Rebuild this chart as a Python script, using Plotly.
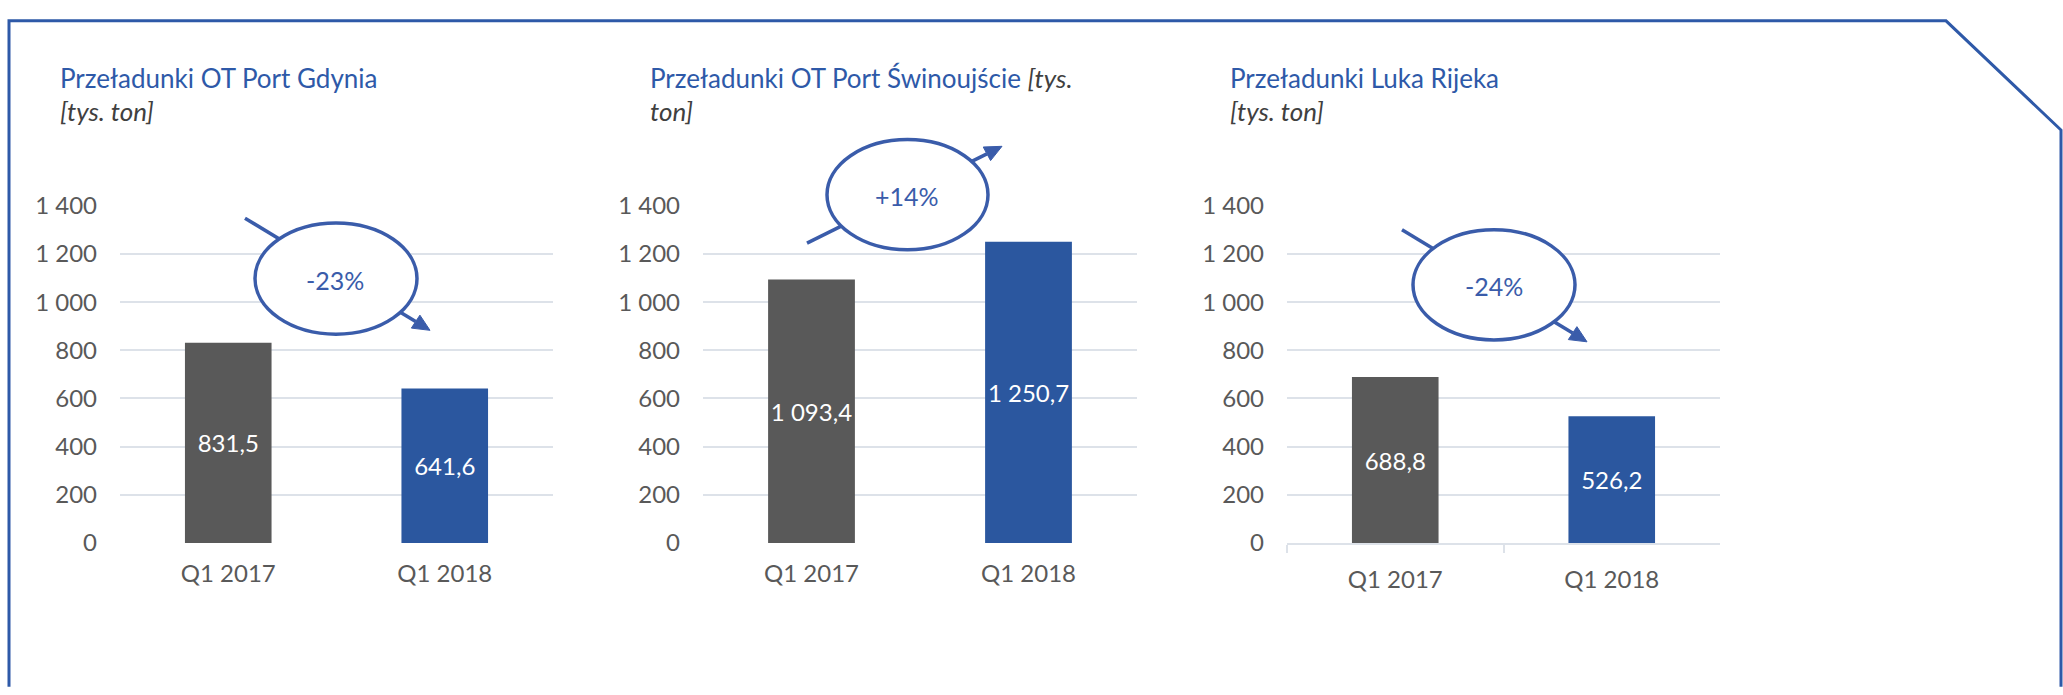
import math
import plotly.graph_objects as go

# ---------------- data ----------------
categories = ["Q1 2017", "Q1 2018"]
gdynia = [831.5, 641.6]
swinoujscie = [1093.4, 1250.7]
rijeka = [688.8, 526.2]
changes = ["-23%", "+14%", "-24%"]
title_line1 = [
    "Przeładunki OT Port Gdynia",
    "Przeładunki OT Port Świnoujście <i><span style='color:#404040'>[tys.</span></i>",
    "Przeładunki Luka Rijeka",
]
title_line2 = ["[tys. ton]", "ton]", "[tys. ton]"]
y_tick_values = [0, 200, 400, 600, 800, 1000, 1200, 1400]

# ---------------- style ----------------
W, H = 2063, 695
FONT = "Lato, 'Open Sans', sans-serif"
BLUE_T = "#2E59A8"
GRAY_BAR = "#595959"
BLUE_BAR = "#2B579F"
LINE_BLUE = "#3A5CAA"
GRID = "#DDE2E9"
TICK = "#595959"


def px(x):
    return x / W


def py(y):
    return 1 - y / H


fig = go.Figure()

series = [gdynia, swinoujscie, rijeka]
x_domains_px = [(120, 553), (703, 1137), (1287, 1720)]
y_dom = [py(550), py(198)]

for i, vals in enumerate(series):
    n = "" if i == 0 else str(i + 1)
    fig.add_trace(go.Bar(
        x=categories, y=vals,
        xaxis="x" + n, yaxis="y" + n,
        width=0.4,
        marker=dict(color=[GRAY_BAR, BLUE_BAR], line=dict(width=0)),
        texttemplate="%{y:,.1f}",
        textposition="inside", insidetextanchor="middle",
        textangle=0, constraintext="none",
        textfont=dict(family=FONT, size=24, color="white"),
        hoverinfo="skip", showlegend=False,
    ))
    d0, d1 = x_domains_px[i]
    xa = dict(
        domain=[px(d0), px(d1)], anchor="y" + n,
        showgrid=False, zeroline=False,
        tickfont=dict(family=FONT, size=24, color=TICK),
        ticklabelstandoff=14,
        fixedrange=True,
    )
    if i == 2:
        xa.update(showline=True, linecolor=GRID, linewidth=2,
                  ticks="outside", tickson="boundaries", ticklen=8,
                  tickcolor=GRID, tickwidth=2)
    else:
        xa.update(showline=False, ticks="")
    ya = dict(
        domain=y_dom, anchor="x" + n, range=[0, 1400],
        tickvals=y_tick_values, tickformat=",",
        showgrid=True, gridcolor=GRID, gridwidth=2,
        zeroline=False, showline=False, ticks="",
        tickfont=dict(family=FONT, size=24, color=TICK),
        ticklabelstandoff=22,
        fixedrange=True,
    )
    fig.update_layout(**{"xaxis" + n: xa, "yaxis" + n: ya})

shapes = []
annotations = []

# frame
frame_pts = [(9, 700), (9, 5), (1946, 5), (2061, 119), (2061, 700)]
path = "M " + " L ".join(f"{px(a)},{py(b)}" for a, b in frame_pts)
shapes.append(dict(type="path", path=path, xref="paper", yref="paper",
                   line=dict(color=BLUE_T, width=3), layer="above"))

# titles
title_x = [58, 648, 1228]
for i in range(3):
    annotations.append(dict(
        x=px(title_x[i]), y=py(65), xref="paper", yref="paper",
        xanchor="left", yanchor="middle", showarrow=False,
        text=title_line1[i],
        font=dict(family=FONT, size=26, color=BLUE_T)))
    annotations.append(dict(
        x=px(title_x[i]), y=py(99), xref="paper", yref="paper",
        xanchor="left", yanchor="middle", showarrow=False,
        text="<i>" + title_line2[i] + "</i>",
        font=dict(family=FONT, size=26, color="#404040")))

# change bubbles with arrows
arrows = [((245, 211), (430, 328)), ((807, 237), (1002, 136)), ((1402, 223), (1587, 340))]
ellipses = [(336, 274, 81, 58), (907.5, 186.5, 80.5, 57.5), (1494, 280.5, 81, 57.5)]
texts_pos = [(335, 275), (907, 188), (1494, 282)]

for i in range(3):
    (x0, y0), (x1, y1) = arrows[i]
    dx, dy = x1 - x0, y1 - y0
    L = math.hypot(dx, dy)
    ux, uy = dx / L, dy / L
    hl, hw = 17, 8
    bx, by = x1 - ux * hl, y1 - uy * hl
    shapes.append(dict(type="line", xref="paper", yref="paper",
                       x0=px(x0), y0=py(y0), x1=px(bx), y1=py(by),
                       line=dict(color=LINE_BLUE, width=3.5)))
    p1 = (bx - uy * hw, by + ux * hw)
    p2 = (bx + uy * hw, by - ux * hw)
    tri = f"M {px(x1)},{py(y1)} L {px(p1[0])},{py(p1[1])} L {px(p2[0])},{py(p2[1])} Z"
    shapes.append(dict(type="path", path=tri, xref="paper", yref="paper",
                       fillcolor=LINE_BLUE, line=dict(color=LINE_BLUE, width=1)))
    cx, cy, rx, ry = ellipses[i]
    shapes.append(dict(type="circle", xref="paper", yref="paper",
                       x0=px(cx - rx), x1=px(cx + rx), y0=py(cy + ry), y1=py(cy - ry),
                       fillcolor="white", line=dict(color=LINE_BLUE, width=3.5)))
    tx, ty = texts_pos[i]
    annotations.append(dict(
        x=px(tx), y=py(ty), xref="paper", yref="paper",
        xanchor="center", yanchor="middle", showarrow=False,
        text=changes[i], font=dict(family=FONT, size=25, color=LINE_BLUE)))

fig.update_layout(
    width=W, height=H, autosize=False,
    margin=dict(l=0, r=0, t=0, b=0),
    paper_bgcolor="white", plot_bgcolor="white",
    separators=", ",
    shapes=shapes, annotations=annotations,
    font=dict(family=FONT),
    hovermode=False,
)

fig.write_html(
    "out.html",
    config={"displayModeBar": False},
    post_script="document.body.style.margin='0';document.body.style.overflow='hidden';",
)
